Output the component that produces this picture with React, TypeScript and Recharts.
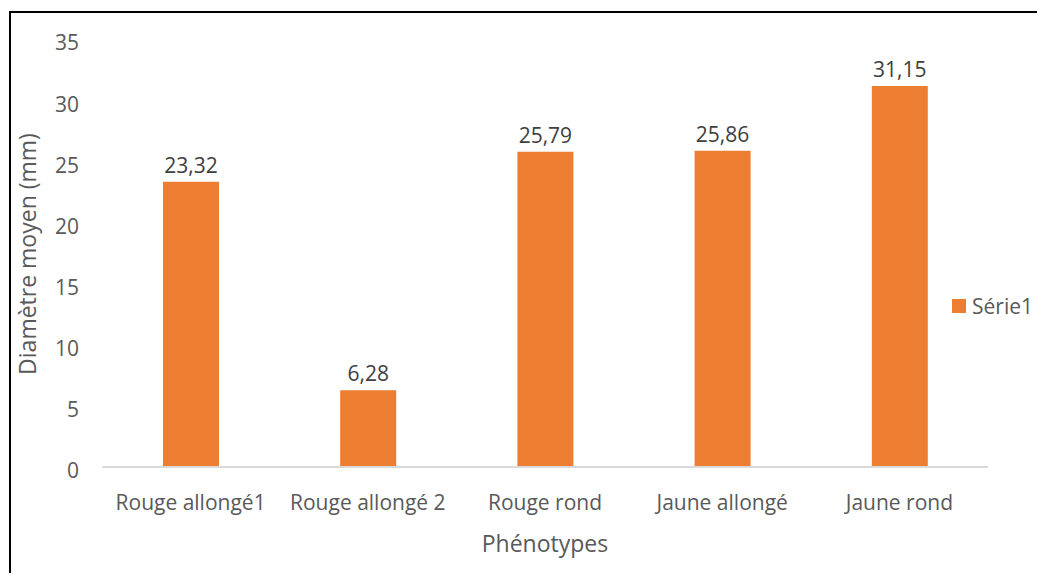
import React from 'react';
import { BarChart, Bar, XAxis, YAxis, LabelList } from 'recharts';

const phenotypes = ['Rouge allongé1', 'Rouge allongé 2', 'Rouge rond', 'Jaune allongé', 'Jaune rond'];
const diametres = [23.32, 6.28, 25.79, 25.86, 31.15];
const yTicks = [0, 5, 10, 15, 20, 25, 30, 35];

const data = phenotypes.map((name, i) => ({ name, serie1: diametres[i] }));

const FONT = '"Open Sans", sans-serif';
const ORANGE = '#ED7D31';

const fmt = (v: any) => Number(v).toFixed(2).replace('.', ',');

const App: React.FC = () => {
  return (
    <div style={{ position: 'relative', width: 1045, height: 581, margin: -8, overflow: 'hidden', background: '#fff', fontFamily: FONT }}>
      <div style={{ position: 'absolute', left: 9, top: 11, width: 1100, height: 700, border: '2px solid #000' }} />
      <div style={{ position: 'absolute', left: 0, top: 0 }}>
        <BarChart width={1045} height={581} data={data} margin={{ top: 39, right: 57, bottom: 0, left: 0 }}>
          <XAxis
            dataKey="name"
            height={114}
            tickLine={false}
            axisLine={{ stroke: '#d9d9d9', strokeWidth: 2 }}
            tick={{ fill: '#595959', fontSize: 21, fontFamily: FONT }}
            tickMargin={22}
            interval={0}
            label={{ value: 'Phénotypes', position: 'center', dy: 20, fill: '#595959', fontSize: 23, fontFamily: FONT }}
          />
          <YAxis
            width={102}
            domain={[0, 35]}
            ticks={yTicks}
            tickLine={false}
            axisLine={false}
            tick={{ fill: '#595959', fontSize: 21, fontFamily: FONT, dy: 4 }}
            tickMargin={17}
            label={{ value: 'Diamètre moyen (mm)', angle: -90, position: 'center', dx: -23, dy: 1, fill: '#595959', fontSize: 23, fontFamily: FONT }}
          />
          <Bar dataKey="serie1" fill={ORANGE} barSize={56} isAnimationActive={false}>
            <LabelList dataKey="serie1" position="top" offset={9} formatter={fmt} fill="#404040" fontSize={21} fontFamily={FONT} />
          </Bar>
        </BarChart>
      </div>
      <div style={{ position: 'absolute', left: 952, top: 292, display: 'flex', alignItems: 'center', color: '#595959', fontSize: 21 }}>
        <span style={{ display: 'inline-block', width: 14, height: 14, background: ORANGE, marginRight: 6 }} />
        <span>Série1</span>
      </div>
    </div>
  );
};

export default App;
